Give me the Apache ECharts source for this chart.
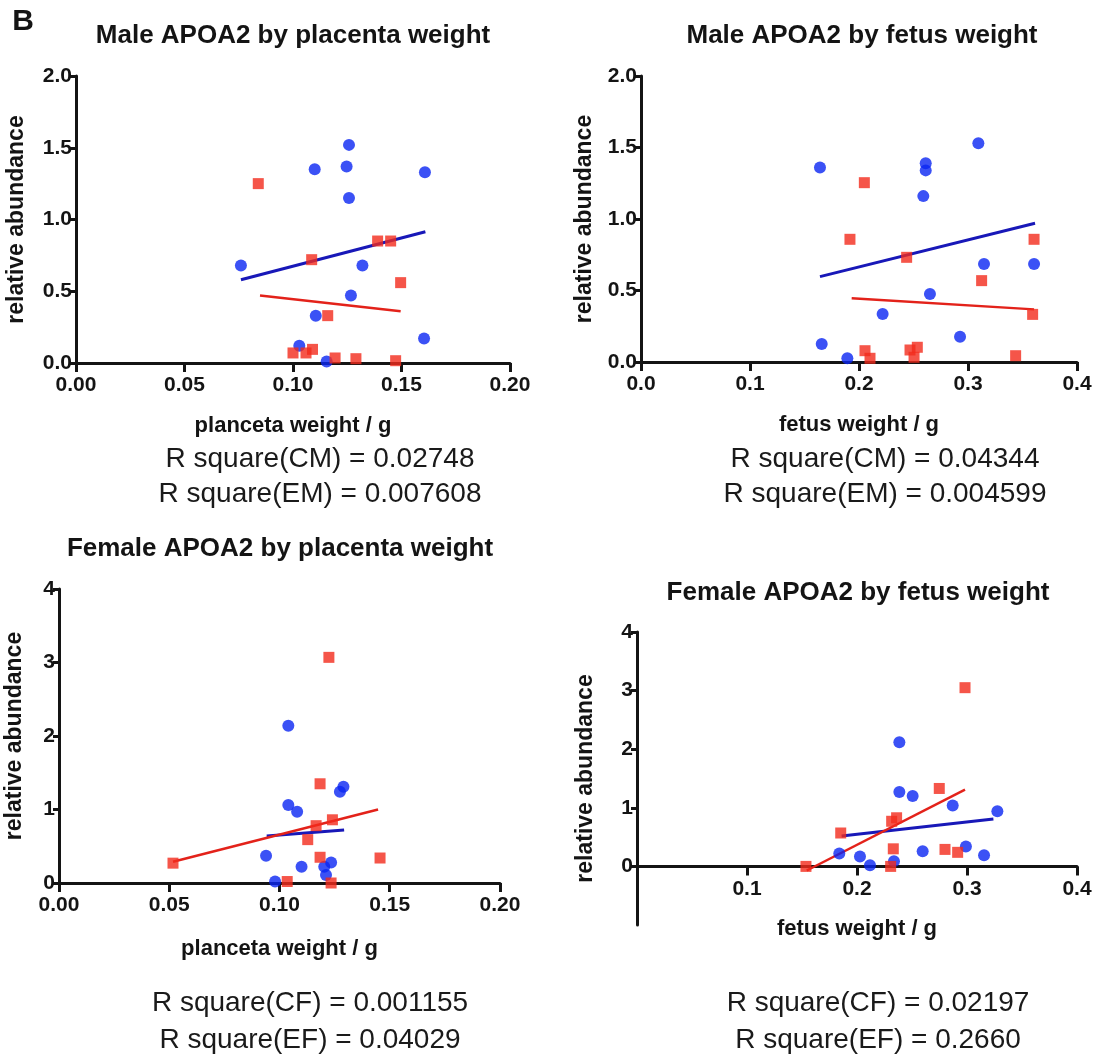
<!DOCTYPE html>
<html><head><meta charset="utf-8">
<script src="https://cdn.jsdelivr.net/npm/echarts@6/dist/echarts.min.js"></script>
<style>html,body{margin:0;padding:0;background:#fff}#c{width:1099px;height:1057px}</style>
</head><body><div id="c"></div><script>
const FONT = "'Liberation Sans', Arial, Helvetica, sans-serif";

// ---------- text ----------
const panelLetter = 'B';
const panelTitles = ['Male APOA2 by placenta weight', 'Male APOA2 by fetus weight',
                     'Female APOA2 by placenta weight', 'Female APOA2 by fetus weight'];
const xNames = ['planceta weight / g', 'fetus weight / g', 'planceta weight / g', 'fetus weight / g'];
const yName = 'relative abundance';
const rSquareLines = [
  ['R square(CM) = 0.02748', 'R square(EM) = 0.007608'],
  ['R square(CM) = 0.04344', 'R square(EM) = 0.004599'],
  ['R square(CF) = 0.001155', 'R square(EF) = 0.04029'],
  ['R square(CF) = 0.02197', 'R square(EF) = 0.2660']
];

// ---------- ticks ----------
const placentaTicks = [0, 0.05, 0.10, 0.15, 0.20];
const fetusTicksMale = [0, 0.1, 0.2, 0.3, 0.4];
const fetusTicksFemale = [0.1, 0.2, 0.3, 0.4];
const maleYTicks = [0, 0.5, 1.0, 1.5, 2.0];
const femaleYTicks = [0, 1, 2, 3, 4];

// ---------- Male, placenta weight ----------
const mpBlue = [[0.110,1.35],[0.1247,1.37],[0.1608,1.33],[0.1258,1.52],[0.1258,1.15],[0.076,0.68],
                [0.132,0.68],[0.1267,0.47],[0.1105,0.33],[0.1029,0.12],[0.1604,0.17],[0.1155,0.01]];
const mpRed  = [[0.084,1.25],[0.1086,0.72],[0.139,0.85],[0.145,0.85],[0.1496,0.56],[0.116,0.33],
                [0.100,0.07],[0.106,0.07],[0.109,0.095],[0.1194,0.035],[0.129,0.03],[0.1473,0.016]];
const mpBlueFit = [[0.076,0.58],[0.161,0.915]];
const mpRedFit  = [[0.0848,0.47],[0.1496,0.36]];

// ---------- Male, fetus weight ----------
const mfBlue = [[0.1642,1.36],[0.2612,1.39],[0.2612,1.34],[0.259,1.16],[0.3095,1.53],[0.3147,0.685],
                [0.3606,0.685],[0.2651,0.476],[0.2217,0.336],[0.1658,0.126],[0.2927,0.177],[0.1893,0.026]];
const mfRed  = [[0.2049,1.254],[0.1917,0.858],[0.2437,0.732],[0.3606,0.858],[0.3125,0.569],[0.3593,0.333],
                [0.2055,0.079],[0.2101,0.026],[0.2468,0.084],[0.2535,0.103],[0.2505,0.033],[0.3437,0.044]];
const mfBlueFit = [[0.1642,0.597],[0.3615,0.97]];
const mfRedFit  = [[0.1933,0.445],[0.3606,0.368]];

// ---------- Female, placenta weight ----------
const fpBlue = [[0.104,2.14],[0.129,1.31],[0.1274,1.24],[0.104,1.06],[0.108,0.97],[0.0939,0.37],
                [0.110,0.22],[0.1203,0.22],[0.1234,0.28],[0.1211,0.11],[0.098,0.02]];
const fpRed  = [[0.1224,3.07],[0.1184,1.35],[0.124,0.86],[0.1166,0.78],[0.1128,0.59],[0.1184,0.35],
                [0.1456,0.34],[0.1035,0.02],[0.1234,0.0],[0.0517,0.27]];
const fpBlueFit = [[0.0942,0.64],[0.1293,0.72]];
const fpRedFit  = [[0.0517,0.29],[0.1447,1.0]];

// ---------- Female, fetus weight ----------
const ffBlue = [[0.2385,2.12],[0.2385,1.27],[0.2506,1.2],[0.287,1.04],[0.3276,0.94],[0.1839,0.22],
                [0.2027,0.17],[0.2118,0.02],[0.2336,0.09],[0.2597,0.26],[0.299,0.34],[0.3155,0.19]];
const ffRed  = [[0.2982,3.05],[0.2748,1.33],[0.2315,0.77],[0.236,0.83],[0.1852,0.57],[0.233,0.3],
                [0.28,0.29],[0.2915,0.24],[0.1536,0.0],[0.2306,0.0]];
const ffBlueFit = [[0.186,0.52],[0.324,0.81]];
const ffRedFit  = [[0.1543,-0.07],[0.2982,1.31]];

// ---------- layout ----------
const grids = [
  {left: 76,  top: 76,  width: 434, height: 287},
  {left: 641, top: 76,  width: 436, height: 286},
  {left: 59,  top: 589, width: 441, height: 294},
  {left: 637, top: 632, width: 440, height: 293}
];
const panels = [
  {blue: mpBlue, red: mpRed, bf: mpBlueFit, rf: mpRedFit, xMin:0, xMax:0.2, xT: placentaTicks, xD:2,
   yMin:0, yMax:2, yT: maleYTicks, yD:1, xGap:52, yGap:48},
  {blue: mfBlue, red: mfRed, bf: mfBlueFit, rf: mfRedFit, xMin:0, xMax:0.4, xT: fetusTicksMale, xD:1,
   yMin:0, yMax:2, yT: maleYTicks, yD:1, xGap:52, yGap:45},
  {blue: fpBlue, red: fpRed, bf: fpBlueFit, rf: fpRedFit, xMin:0, xMax:0.2, xT: placentaTicks, xD:2,
   yMin:0, yMax:4, yT: femaleYTicks, yD:0, xGap:55, yGap:33},
  {blue: ffBlue, red: ffRed, bf: ffBlueFit, rf: ffRedFit, xMin:0, xMax:0.4, xT: fetusTicksFemale, xD:1,
   yMin:-1, yMax:4, yT: femaleYTicks, yD:0, xGap:52, yGap:40}
];
const titlePos = [[293,36],[862,36],[280,549],[858,593]];
const rPos = [[320,459,494],[885,459,494],[310,1003,1040],[878,1003,1040]];

const INK = '#141414';
const BLUE = '#0a26f2', RED = '#f22a1c', BLUE_LINE = '#1818b8', RED_LINE = '#e3221a';

const xAxis = [], yAxis = [], series = [];
panels.forEach((p, i) => {
  // place the x axis line where y = 0 (moves it up when the y range goes below zero)
  const zeroOffset = -grids[i].height * (0 - p.yMin) / (p.yMax - p.yMin);
  xAxis.push({
    type: 'value', gridIndex: i, min: p.xMin, max: p.xMax, position: 'bottom',
    offset: zeroOffset,
    splitLine: {show: false},
    axisLine: {show: true, onZero: false, lineStyle: {color: INK, width: 3}},
    axisTick: {show: true, length: 9, customValues: p.xT, lineStyle: {color: INK, width: 3}},
    axisLabel: {customValues: p.xT, formatter: v => Number(v).toFixed(p.xD), margin: 12,
                fontFamily: FONT, fontWeight: 'bold', fontSize: 21, color: INK},
    name: xNames[i], nameLocation: 'middle', nameGap: p.xGap,
    nameTextStyle: {fontFamily: FONT, fontWeight: 'bold', fontSize: 22, color: INK}
  });
  yAxis.push({
    type: 'value', gridIndex: i, min: p.yMin, max: p.yMax,
    splitLine: {show: false},
    axisLine: {show: true, onZero: false, lineStyle: {color: INK, width: 3}},
    axisTick: {show: true, length: 6, customValues: p.yT, lineStyle: {color: INK, width: 3}},
    axisLabel: {customValues: p.yT, formatter: v => Number(v).toFixed(p.yD), margin: 4,
                fontFamily: FONT, fontWeight: 'bold', fontSize: 21, color: INK},
    name: yName, nameLocation: 'middle', nameGap: p.yGap, nameRotate: 90,
    nameTextStyle: {fontFamily: FONT, fontWeight: 'bold', fontSize: 23, color: INK}
  });
  series.push({type: 'line', xAxisIndex: i, yAxisIndex: i, data: p.bf, symbol: 'none',
               lineStyle: {color: BLUE_LINE, width: 3}, z: 2, silent: true});
  series.push({type: 'line', xAxisIndex: i, yAxisIndex: i, data: p.rf, symbol: 'none',
               lineStyle: {color: RED_LINE, width: 2.5}, z: 2, silent: true});
  series.push({type: 'scatter', xAxisIndex: i, yAxisIndex: i, data: p.blue, symbol: 'circle',
               symbolSize: 12, itemStyle: {color: BLUE}, z: 3});
  series.push({type: 'scatter', xAxisIndex: i, yAxisIndex: i, data: p.red, symbol: 'rect',
               symbolSize: 11, itemStyle: {color: RED}, z: 4});
});

const graphic = [{type: 'text', x: 23, y: 22, style: {text: panelLetter, font: 'bold 30px ' + FONT,
                  fill: INK, textAlign: 'center', textVerticalAlign: 'middle'}}];
panelTitles.forEach((t, i) => graphic.push({type: 'text', x: titlePos[i][0], y: titlePos[i][1],
  style: {text: t, font: 'bold 26px ' + FONT, fill: INK, textAlign: 'center', textVerticalAlign: 'middle'}}));
rSquareLines.forEach((ls, i) => ls.forEach((t, j) => graphic.push({type: 'text', x: rPos[i][0], y: rPos[i][1 + j],
  style: {text: t, font: '28px ' + FONT, fill: '#1a1a1a', textAlign: 'center', textVerticalAlign: 'middle'}})));

const chart = echarts.init(document.getElementById('c'), null, {renderer: 'canvas'});
chart.setOption({
  animation: false, backgroundColor: '#fff',
  grid: grids, xAxis, yAxis, series, graphic
});
</script></body></html>
